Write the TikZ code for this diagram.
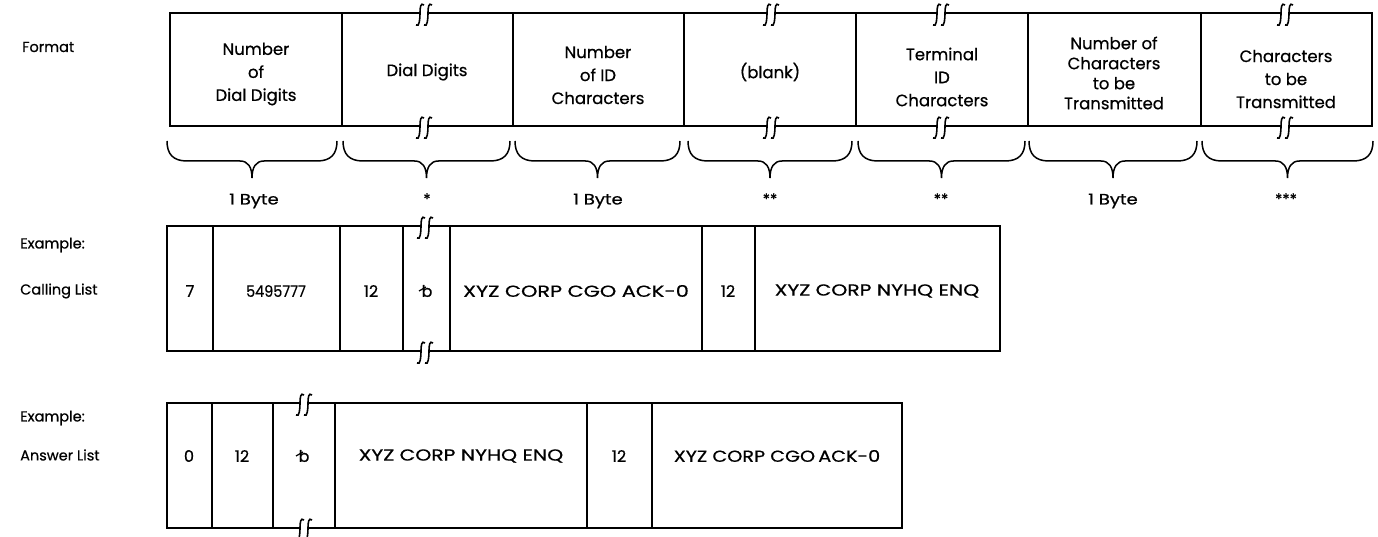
\documentclass[tikz,border=0pt]{standalone}
\usepackage{graphicx}
\usepackage{fontspec}
\setmainfont{Poppins}[FakeBold=0.6]
\newcommand\bkS[2]{(#1+4,#2-8) .. controls (#1+0.5,#2-11) and (#1,#2-5) .. (#1,#2) .. controls (#1,#2+5) and (#1-0.5,#2+15) .. (#1-4,#2+12)}
\newcommand\bk[2]{\draw[ln] \bkS{#1-4}{#2}; \draw[ln] \bkS{#1+4}{#2};}
\newcommand\brc[2]{\pgfmathsetmacro\mm{(#1+#2)/2}%
  \draw[br] (#1,141) .. controls (#1,154) and (#1+6,161) .. (#1+20,161) -- (\mm-12,161) .. controls (\mm-4,161) and (\mm,167) .. (\mm,178) .. controls (\mm,167) and (\mm+4,161) .. (\mm+12,161) -- (#2-20,161) .. controls (#2-6,161) and (#2,154) .. (#2,141);}
\newcommand\wide[2]{\scalebox{#1}[1]{#2}}
\begin{document}
\begin{tikzpicture}[x=1pt,y=-1pt,
  ln/.style={line width=1.6pt},
  br/.style={line width=1.5pt},
  ftxt/.style={font=\fontsize{16.5}{23}\selectfont, align=center, inner sep=0pt},
  rtxt/.style={font=\fontsize{16}{18}\selectfont, inner sep=0pt},
  lbl/.style={font=\fontsize{14.5}{18}\selectfont, anchor=west, inner sep=0pt},
  sz/.style={font=\fontsize{15}{16}\selectfont, inner sep=0pt}]
\useasboundingbox (0,0) rectangle (1378,537);
% ---------------- Format row
\draw[ln] (170,13) -- (420,13);
\draw[ln] (428,13) -- (767,13);
\draw[ln] (775,13) -- (937,13);
\draw[ln] (945,13) -- (1281,13);
\draw[ln] (1289,13) -- (1372,13) -- (1372,126) -- (1289,126);
\draw[ln] (1281,126) -- (945,126);
\draw[ln] (937,126) -- (775,126);
\draw[ln] (767,126) -- (428,126);
\draw[ln] (420,126) -- (170,126) -- (170,13) -- (172,13);
\bk{424}{13}\bk{424}{126}
\bk{771}{13}\bk{771}{126}
\bk{941}{13}\bk{941}{126}
\bk{1285}{13}\bk{1285}{126}
\foreach \x in {342,513,684,856,1028,1201} \draw[ln] (\x,13) -- (\x,126);
\node[lbl] (fmt) at (22,47) {Format};
\node[ftxt] (f1) at (256,74) {Number\\of\\Dial Digits};
\node[ftxt] (f2) at (427,72) {Dial Digits};
\node[ftxt] (f3) at (598,75) {Number\\of ID\\Characters};
\node[ftxt] (f4) at (770,72) {(blank)};
\node[ftxt] (f5) at (942,77) {Terminal\\ID\\Characters};
\node[ftxt, font=\fontsize{16.5}{20}\selectfont] (f6) at (1114,73) {Number of\\Characters\\to be\\Transmitted};
\node[ftxt] (f7) at (1286,79) {Characters\\to be\\Transmitted};
% ---------------- braces
\brc{167}{337}\brc{343}{510}\brc{515}{680}\brc{688}{852}\brc{858}{1025}\brc{1029}{1197}\brc{1202}{1373}
\node[sz] (s1) at (254,201) {\wide{1.2}{1 Byte}};
\node[sz] (s2) at (427,199) {*};
\node[sz] (s3) at (598,201) {\wide{1.2}{1 Byte}};
\node[sz] (s4) at (770,199) {**};
\node[sz] (s5) at (941,199) {**};
\node[sz] (s6) at (1113,201) {\wide{1.2}{1 Byte}};
\node[sz] (s7) at (1286,199) {***};
% ---------------- Calling list
\draw[ln] (421,226) -- (167,226) -- (167,351) -- (421,351);
\draw[ln] (429,226) -- (1000,226) -- (1000,351) -- (429,351);
\bk{425}{226}\bk{425}{351}
\foreach \x in {213,340,403,450,702,755} \draw[ln] (\x,226) -- (\x,351);
\node[lbl] (ex1) at (20,245) {Example:};
\node[lbl] (cl) at (20,291) {Calling List};
\node[rtxt] (c1) at (190,291) {7};
\node[rtxt] (c2) at (276,291) {\wide{0.9}{5495777}};
\node[rtxt] (c3) at (371,291) {12};
\node[rtxt] (c4) at (427,291) {b};
\draw[line width=1.2pt] ([xshift=-8pt,yshift=0pt]c4.center) -- ([xshift=-1pt,yshift=4pt]c4.center);
\node[rtxt] (c5) at (576,291) {\wide{1.3}{XYZ CORP CGO ACK-0}};
\node[rtxt] (c6) at (728,291) {12};
\node[rtxt] (c7) at (877,291) {\wide{1.27}{XYZ CORP NYHQ ENQ}};
% ---------------- Answer list
\draw[ln] (300,403) -- (167,403) -- (167,528) -- (300,528);
\draw[ln] (308,403) -- (902,403) -- (902,528) -- (308,528);
\bk{304}{403}\bk{304}{528}
\foreach \x in {212,273,335,587,652} \draw[ln] (\x,403) -- (\x,528);
\node[lbl] (ex2) at (20,418) {Example:};
\node[lbl] (al) at (20,455) {Answer List};
\node[rtxt] (a1) at (189,456) {0};
\node[rtxt] (a2) at (242,456) {12};
\node[rtxt] (a3) at (304,456) {b};
\draw[line width=1.2pt] ([xshift=-8pt,yshift=0pt]a3.center) -- ([xshift=-1pt,yshift=4pt]a3.center);
\node[rtxt] (a4) at (461,456) {\wide{1.27}{XYZ CORP NYHQ ENQ}};
\node[rtxt] (a5) at (619,456) {12};
\node[rtxt] (a6) at (777,456) {\wide{1.2}{XYZ CORP CGO\,ACK-0}};
\end{tikzpicture}
\end{document}
